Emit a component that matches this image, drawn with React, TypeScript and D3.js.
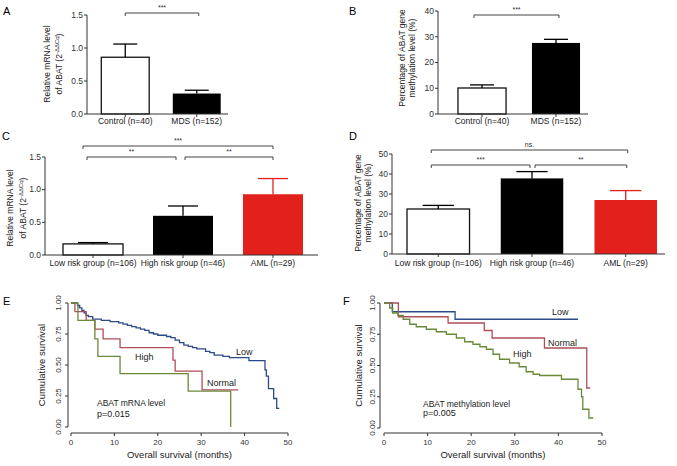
import React from "react";
import * as d3 from "d3";

const W = 677;
const H = 466;
const FONT = "'Liberation Sans', Arial, Helvetica, sans-serif";

// ---------- Panel A ----------
const aCategories = ["Control (n=40)", "MDS (n=152)"];
const aValues = [0.86, 0.31];
const aErrors = [0.2, 0.05];
const aTicks = [0, 0.5, 1.0, 1.5];
const aBrackets = [{ from: 0, to: 1, label: "***" }];

// ---------- Panel B ----------
const bCategories = ["Control (n=40)", "MDS (n=152)"];
const bValues = [10.1, 27.6];
const bErrors = [1.2, 1.4];
const bTicks = [0, 10, 20, 30, 40];
const bBrackets = [{ from: 0, to: 1, label: "***" }];

// ---------- Panel C ----------
const cCategories = ["Low risk group (n=106)", "High risk group (n=46)", "AML (n=29)"];
const cValues = [0.17, 0.6, 0.93];
const cErrors = [0.02, 0.15, 0.24];
const cTicks = [0, 0.5, 1.0, 1.5];
const cBrackets = [
  { from: 0, to: 2, label: "***" },
  { from: 0, to: 1, label: "**" },
  { from: 1, to: 2, label: "**" },
];

// ---------- Panel D ----------
const dCategories = ["Low risk group (n=106)", "High risk group (n=46)", "AML (n=29)"];
const dValues = [22.5, 37.8, 27.0];
const dErrors = [1.8, 3.4, 4.7];
const dTicks = [0, 10, 20, 30, 40, 50];
const dBrackets = [
  { from: 0, to: 2, label: "ns." },
  { from: 0, to: 1, label: "***" },
  { from: 1, to: 2, label: "**" },
];

const twoFills = ["#ffffff", "#000000"];
const threeFills = ["#ffffff", "#000000", "#e3211c"];

// ---------- Panel E (KM, ABAT mRNA) ----------
const eLowTimes = [0, 1.5, 2, 2.5, 3, 3.5, 4, 5, 7, 9, 11, 12, 13, 14, 15, 16, 17, 18, 19, 20, 22, 23, 24, 25, 26, 27, 28, 29, 31, 32, 33, 35, 36.5, 41, 44.7, 45, 45.5, 46.7, 47.4, 48];
const eLowSurv = [1, 0.98, 0.96, 0.94, 0.92, 0.9, 0.89, 0.87, 0.86, 0.85, 0.84, 0.83, 0.82, 0.81, 0.8, 0.79, 0.78, 0.76, 0.75, 0.74, 0.73, 0.72, 0.7, 0.68, 0.66, 0.65, 0.64, 0.63, 0.61, 0.6, 0.58, 0.57, 0.56, 0.535, 0.46, 0.41, 0.31, 0.23, 0.15, 0.15];
const eNormalTimes = [0, 0.9, 3.5, 5.5, 7.4, 11.3, 23.5, 24, 30.2, 38.5];
const eNormalSurv = [1, 0.93, 0.86, 0.79, 0.71, 0.64, 0.54, 0.45, 0.3, 0.3];
const eHighTimes = [0, 1.6, 5.5, 6.2, 11.3, 27, 36.8, 36.8];
const eHighSurv = [1, 0.86, 0.71, 0.57, 0.43, 0.29, 0.0, 0.0];

// ---------- Panel F (KM, ABAT methylation) ----------
const fLowTimes = [0, 1.9, 16.3, 44.5];
const fLowSurv = [1, 0.93, 0.87, 0.87];
const fNormalTimes = [0, 3.3, 14.7, 23, 24.8, 36.8, 46.5, 47.3];
const fNormalSurv = [1, 0.89, 0.84, 0.78, 0.72, 0.64, 0.32, 0.32];
const fHighTimes = [0, 1.3, 2, 3.2, 4.4, 5.9, 7.4, 9.7, 12, 14.3, 16.6, 18.5, 20.4, 22, 23.5, 25, 26.5, 28.8, 31, 32.6, 34.2, 35.7, 40.7, 44.5, 45.3, 45.6, 47, 48];
const fHighSurv = [1, 0.96, 0.92, 0.9, 0.87, 0.83, 0.81, 0.79, 0.77, 0.75, 0.72, 0.69, 0.67, 0.65, 0.63, 0.59, 0.55, 0.52, 0.49, 0.45, 0.43, 0.42, 0.39, 0.31, 0.25, 0.15, 0.08, 0.08];

const kmTicksX = [0, 10, 20, 30, 40, 50];
const kmTicksY = [0, 0.25, 0.5, 0.75, 1];

const COL_LOW = "#2b4a88";
const COL_NORMAL = "#ad4f5a";
const COL_HIGH = "#6a8a3a";
const AXIS = "#333";

type BarLayout = {
  axisX: number;
  axisEnd: number;
  yTop: number;
  yBottom: number;
  bandR: [number, number];
  pIn: number;
  pOut: number;
  labelY: number;
  titleX: [number, number];
  titleCy: number;
  bracketYs: number[];
  bracketOff: [number, number][];
};

function BarPanel(props: {
  cats: string[];
  vals: number[];
  errs: number[];
  fills: string[];
  ticks: number[];
  fmt: (v: number) => string;
  brackets: { from: number; to: number; label: string }[];
  title: React.ReactNode[];
  L: BarLayout;
}) {
  const { cats, vals, errs, fills, ticks, fmt, brackets, title, L } = props;
  const x = d3.scaleBand<string>().domain(cats).range(L.bandR).paddingInner(L.pIn).paddingOuter(L.pOut);
  const y = d3.scaleLinear().domain([ticks[0], ticks[ticks.length - 1]]).range([L.yBottom, L.yTop]);
  const bw = x.bandwidth();
  const cx = (i: number) => (x(cats[i]) as number) + bw / 2;
  return (
    <g>
      {/* y axis */}
      <line x1={L.axisX} x2={L.axisX} y1={L.yBottom} y2={L.yTop} stroke={AXIS} strokeWidth={1} />
      {ticks.map((t) => (
        <g key={t}>
          <line x1={L.axisX - 3} x2={L.axisX} y1={y(t)} y2={y(t)} stroke={AXIS} />
          <text x={L.axisX - 4} y={y(t)} dy="0.33em" textAnchor="end" fontSize={8.5} fill="#333">
            {fmt(t)}
          </text>
        </g>
      ))}
      {/* bars */}
      {cats.map((c, i) => {
        const x0 = x(c) as number;
        const col = fills[i] === "#ffffff" ? "#000" : fills[i];
        const top = y(vals[i]);
        const etop = y(vals[i] + errs[i]);
        return (
          <g key={c}>
            <rect x={x0} y={top} width={bw} height={L.yBottom - top} fill={fills[i]} stroke={fills[i] === "#ffffff" ? "#111" : "none"} strokeWidth={1.3} />
            <line x1={cx(i)} x2={cx(i)} y1={top} y2={etop} stroke={col} strokeWidth={1.3} />
            <line x1={cx(i) - bw * 0.25} x2={cx(i) + bw * 0.25} y1={etop} y2={etop} stroke={col} strokeWidth={1.3} />
          </g>
        );
      })}
      {/* x axis */}
      <line x1={L.axisX} x2={L.axisEnd} y1={L.yBottom} y2={L.yBottom} stroke={AXIS} strokeWidth={1} />
      {cats.map((c, i) => (
        <g key={"t" + c}>
          <line x1={cx(i)} x2={cx(i)} y1={L.yBottom} y2={L.yBottom + 3} stroke={AXIS} />
          <text x={cx(i)} y={L.labelY} textAnchor="middle" fontSize={8.5} fill="#222">
            {c}
          </text>
        </g>
      ))}
      {/* brackets */}
      {brackets.map((b, k) => {
        const x1 = cx(b.from) + L.bracketOff[k][0];
        const x2 = cx(b.to) + L.bracketOff[k][1];
        const by = L.bracketYs[k];
        return (
          <g key={"b" + k}>
            <path d={`M${x1},${by + 3}V${by}H${x2}V${by + 3}`} fill="none" stroke="#444" strokeWidth={1} />
            <text x={(x1 + x2) / 2} y={by - 3} textAnchor="middle" fontSize={7} fill="#333">
              {b.label}
            </text>
          </g>
        );
      })}
      {/* y title */}
      {title.map((t, k) => (
        <text key={"yt" + k} transform={`translate(${L.titleX[k]},${L.titleCy}) rotate(-90)`} textAnchor="middle" fontSize={8.5} fill="#222">
          {t}
        </text>
      ))}
    </g>
  );
}

type KMLayout = {
  xR: [number, number];
  yR: [number, number];
  yAxisX: number;
  xAxisY: number;
  tickLabelX: number;
  titleX: number;
  xTickLabelY: number;
  xTitleY: number;
};

function KMPanel(props: {
  curves: { t: number[]; s: number[]; color: string }[];
  labels: { text: string; x: number; y: number }[];
  L: KMLayout;
}) {
  const { curves, labels, L } = props;
  const x = d3.scaleLinear().domain([0, 50]).range(L.xR);
  const y = d3.scaleLinear().domain([0, 1]).range(L.yR);
  const line = d3
    .line<[number, number]>()
    .x((d) => x(d[0]))
    .y((d) => y(d[1]))
    .curve(d3.curveStepAfter);
  return (
    <g>
      {curves.map((c, i) => (
        <path key={i} d={line(c.t.map((t, j) => [t, c.s[j]] as [number, number])) || ""} fill="none" stroke={c.color} strokeWidth={1.3} />
      ))}
      <line x1={L.yAxisX} x2={L.yAxisX} y1={L.yR[0]} y2={L.yR[1]} stroke={AXIS} />
      {kmTicksY.map((t) => (
        <g key={t}>
          <line x1={L.yAxisX - 3} x2={L.yAxisX} y1={y(t)} y2={y(t)} stroke={AXIS} />
          <text transform={`translate(${L.tickLabelX},${y(t)}) rotate(-90)`} textAnchor="middle" fontSize={8} fill="#333">
            {t.toFixed(2)}
          </text>
        </g>
      ))}
      <line x1={L.xR[0]} x2={L.xR[1]} y1={L.xAxisY} y2={L.xAxisY} stroke={AXIS} />
      {kmTicksX.map((t) => (
        <g key={t}>
          <line x1={x(t)} x2={x(t)} y1={L.xAxisY} y2={L.xAxisY + 3} stroke={AXIS} />
          <text x={x(t)} y={L.xTickLabelY} textAnchor="middle" fontSize={8} fill="#333">
            {t}
          </text>
        </g>
      ))}
      <text transform={`translate(${L.titleX},${(L.yR[0] + L.yR[1]) / 2}) rotate(-90)`} textAnchor="middle" fontSize={9.5} fill="#222">
        Cumulative survival
      </text>
      <text x={(L.xR[0] + L.xR[1]) / 2} y={L.xTitleY} textAnchor="middle" fontSize={9.5} fill="#222">
        Overall survival (months)
      </text>
      {labels.map((l, i) => (
        <text key={i} x={l.x} y={l.y} fontSize={l.text.length > 8 ? 8.5 : 9} fill="#222">
          {l.text}
        </text>
      ))}
    </g>
  );
}

const ddcq = (
  <>
    of ABAT (2
    <tspan fontSize={6} dy={-3}>
      -ΔΔCq
    </tspan>
    <tspan dy={3}>)</tspan>
  </>
);

export default function App() {
  const f1 = (v: number) => v.toFixed(1);
  const f0 = (v: number) => String(v);
  return (
    <svg width={W} height={H} style={{ position: "absolute", left: 0, top: 0, background: "#fff" }} fontFamily={FONT}>
      <rect width={W} height={H} fill="#fff" />
      {/* panel letters */}
      <text x={3} y={15} fontSize={11}>A</text>
      <text x={349} y={15} fontSize={11}>B</text>
      <text x={2} y={140} fontSize={11}>C</text>
      <text x={349} y={140} fontSize={11}>D</text>
      <text x={3} y={305} fontSize={11}>E</text>
      <text x={343} y={305} fontSize={11}>F</text>

      <BarPanel
        cats={aCategories}
        vals={aValues}
        errs={aErrors}
        fills={twoFills}
        ticks={aTicks}
        fmt={f1}
        brackets={aBrackets}
        title={["Relative mRNA level", ddcq]}
        L={{ axisX: 87, axisEnd: 228, yTop: 15, yBottom: 114, bandR: [87, 235], pIn: 0.33, pOut: 0.2, labelY: 124, titleX: [50, 62], titleCy: 64, bracketYs: [13], bracketOff: [[0, 2]] }}
      />
      <BarPanel
        cats={bCategories}
        vals={bValues}
        errs={bErrors}
        fills={twoFills}
        ticks={bTicks}
        fmt={f0}
        brackets={bBrackets}
        title={["Percentage of ABAT gene", "methylation level (%)"]}
        L={{ axisX: 438, axisEnd: 588, yTop: 11, yBottom: 114, bandR: [438, 600], pIn: 0.35, pOut: 0.27, labelY: 124, titleX: [405, 415], titleCy: 58, bracketYs: [15], bracketOff: [[-8, 3]] }}
      />
      <BarPanel
        cats={cCategories}
        vals={cValues}
        errs={cErrors}
        fills={threeFills}
        ticks={cTicks}
        fmt={f1}
        brackets={cBrackets}
        title={["Relative mRNA level", ddcq]}
        L={{ axisX: 45, axisEnd: 318, yTop: 157, yBottom: 255, bandR: [45, 321], pIn: 0.333, pOut: 0.2, labelY: 266, titleX: [13, 26], titleCy: 208, bracketYs: [146, 157, 157], bracketOff: [[-10, 0], [-6, -7], [2, 0]] }}
      />
      <BarPanel
        cats={dCategories}
        vals={dValues}
        errs={dErrors}
        fills={threeFills}
        ticks={dTicks}
        fmt={f0}
        brackets={dBrackets}
        title={["Percentage of ABAT gene", "methylation level (%)"]}
        L={{ axisX: 392, axisEnd: 665, yTop: 154, yBottom: 254, bandR: [392, 672], pIn: 0.333, pOut: 0.16, labelY: 266, titleX: [361, 371], titleCy: 203, bracketYs: [150, 165, 165], bracketOff: [[-7, 2], [-7, -2], [3, 1]] }}
      />

      <KMPanel
        curves={[
          { t: eLowTimes, s: eLowSurv, color: COL_LOW },
          { t: eNormalTimes, s: eNormalSurv, color: COL_NORMAL },
          { t: eHighTimes, s: eHighSurv, color: COL_HIGH },
        ]}
        labels={[
          { text: "Low", x: 236, y: 355 },
          { text: "High", x: 135, y: 360 },
          { text: "Normal", x: 207, y: 386 },
          { text: "ABAT mRNA level", x: 97, y: 406 },
          { text: "p=0.015", x: 97, y: 416.5 },
        ]}
        L={{ xR: [71, 288], yR: [427, 303], yAxisX: 68, xAxisY: 433, tickLabelX: 61, titleX: 45, xTickLabelY: 445, xTitleY: 458 }}
      />
      <KMPanel
        curves={[
          { t: fLowTimes, s: fLowSurv, color: COL_LOW },
          { t: fNormalTimes, s: fNormalSurv, color: COL_NORMAL },
          { t: fHighTimes, s: fHighSurv, color: COL_HIGH },
        ]}
        labels={[
          { text: "Low", x: 552, y: 315 },
          { text: "Normal", x: 548, y: 345.5 },
          { text: "High", x: 513, y: 357 },
          { text: "ABAT methylation level", x: 423, y: 406.5 },
          { text: "p=0.005", x: 423, y: 416 },
        ]}
        L={{ xR: [384, 602], yR: [428, 303], yAxisX: 380, xAxisY: 433, tickLabelX: 375, titleX: 362, xTickLabelY: 445, xTitleY: 458 }}
      />
    </svg>
  );
}
